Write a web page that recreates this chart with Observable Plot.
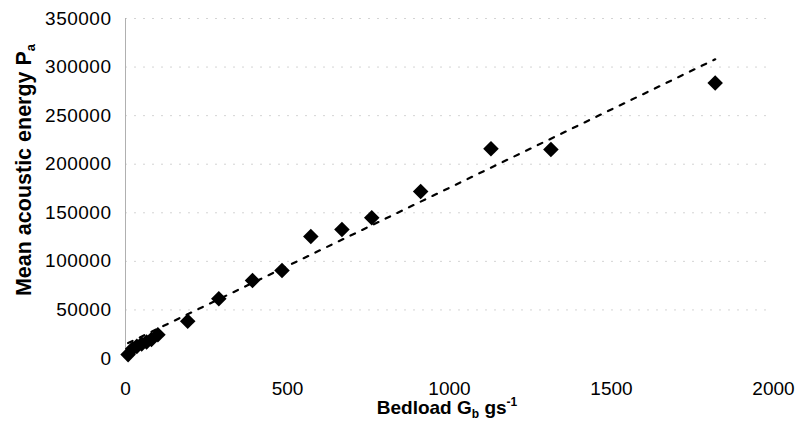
<!DOCTYPE html>
<html><head><meta charset="utf-8">
<script src="https://cdn.jsdelivr.net/npm/d3@7"></script>
<script src="https://cdn.jsdelivr.net/npm/@observablehq/plot@0.6"></script>
<style>body{margin:0;background:#fff}</style>
</head><body><div id="chart"></div>
<script>
// Bedload Gb (g/s) vs mean acoustic energy Pa
const bedload = [8, 22, 35, 50, 65, 80, 100, 192, 288, 392, 483, 572, 668, 760, 911, 1128, 1313, 1820];
const energy  = [4000, 10000, 12500, 15000, 17000, 19500, 24500, 38400, 61500, 80300, 90600, 125600, 132800, 144900, 172000, 216000, 215200, 283500];
// linear trendline end points
const trendX = [8, 1820];
const trendY = [15900, 308000];
const xTicks = [0, 500, 1000, 1500, 2000];
const yTicks = [0, 50000, 100000, 150000, 200000, 250000, 300000, 350000];

const points = bedload.map((x, i) => ({x, y: energy[i]}));
const trend = trendX.map((x, i) => ({x, y: trendY[i]}));

const plot = Plot.plot({
  width: 803, height: 447,
  marginLeft: 125, marginRight: 30, marginTop: 18, marginBottom: 89,
  style: {fontFamily: "'Liberation Sans', Arial, sans-serif", fontSize: "19px", color: "#000", background: "#fff"},
  x: {domain: [0, 2000], ticks: xTicks, tickSize: 0, tickPadding: 23, label: null, tickFormat: d => String(d)},
  y: {domain: [0, 350000], ticks: yTicks, tickSize: 0, tickPadding: 14, label: null, tickFormat: d => String(d)},
  marks: [
    Plot.ruleY(yTicks.slice(1), {stroke: "#d4d4d4", strokeDasharray: "2,7"}),
    Plot.ruleX([0], {stroke: "#b0b0b0"}),
    Plot.line(trend, {x: "x", y: "y", stroke: "#000", strokeWidth: 2.2, strokeDasharray: "5,8"}),
    Plot.dot(points, {x: "x", y: "y", symbol: "diamond2", r: 7, fill: "#000", stroke: "none"})
  ]
});
document.getElementById("chart").append(plot);
d3.select(plot).selectAll("g[aria-label='y-axis tick label'] text").style("letter-spacing", "0.5px");

const svg = d3.select(plot);
const xt = svg.append("text")
  .attr("x", 447).attr("y", 414)
  .attr("text-anchor", "middle")
  .attr("font-weight", "bold").attr("font-size", 19).attr("fill", "#000");
xt.append("tspan").text("Bedload G");
xt.append("tspan").attr("font-size", 12).attr("dy", 4).text("b");
xt.append("tspan").attr("dy", -4).text(" gs");
xt.append("tspan").attr("font-size", 12).attr("dy", -8).text("-1");

const yt = svg.append("text")
  .attr("transform", "translate(31,170) rotate(-90)")
  .attr("text-anchor", "middle")
  .attr("font-weight", "bold").attr("font-size", 21.5).attr("fill", "#000");
yt.append("tspan").text("Mean acoustic energy P");
yt.append("tspan").attr("font-size", 13).attr("dy", 4).text("a");
</script>
</body></html>
